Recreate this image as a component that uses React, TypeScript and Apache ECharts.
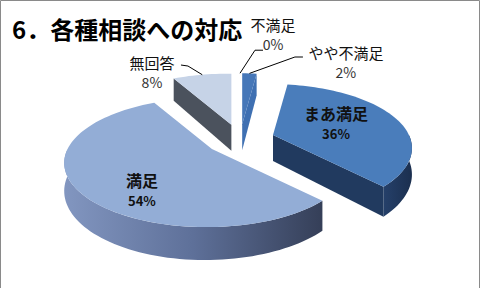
import React, { useEffect, useRef } from 'react';
import * as echarts from 'echarts';

// Survey result: response to consultations (percent of answers)
const categories = ['不満足', 'やや不満足', 'まあ満足', '満足', '無回答'];
const shares = [0, 2, 36, 54, 8];
const titleText = '6．各種相談への対応';

const FONT = 'Noto Sans CJK JP';

// Slice colours: top face, curved rim (left → right gradient), cut face
const sliceStyle: Record<string, { top: string; rim: string[]; cut: string }> = {
  不満足: { top: '#1f497d', rim: ['#1f3557', '#1f3557'], cut: '#1f3557' },
  やや不満足: { top: '#4677b8', rim: ['#27406a', '#27406a'], cut: '#3f70b2' },
  まあ満足: { top: '#4a7dbb', rim: ['#25406a', '#1b2f4f'], cut: '#213a5f' },
  満足: { top: '#93add6', rim: ['#8296c0', '#5e7099', '#353f58'], cut: '#4a5873' },
  無回答: { top: '#c6d3e7', rim: ['#50575f', '#50575f'], cut: '#4b525d' },
};

// Pie geometry (pixels)
const HUB_X = 240;
const HUB_Y = 139.8;
const EXPLODE_X = 34.7;
const EXPLODE_Y = 15.6;
const RADIUS_X = 140;
const RADIUS_Z = 61.7;
const PERSPECTIVE_Z = 0.21;
const PERSPECTIVE_X = 0.03;
const THICKNESS = 26;

// Label placement: leader bends/ends relative to the rim point, text relative to the leader end
const outsideLabels: Record<string, { bend: number[]; end: number[]; text: number[] }> = {
  不満足: { bend: [15, -23], end: [23, -23], text: [10, -26, -6] },
  やや不満足: { bend: [45.5, -16.4], end: [53.5, -16.4], text: [43, -5, 15] },
  無回答: { bend: [-14.3, -8.7], end: [-21.3, -9.7], text: [-29, -3, 17] },
};
// Inside labels relative to the slice apex: [dx, nameDy, valueDy]
const insideLabels: Record<string, number[]> = {
  まあ満足: [63, -22, -1],
  満足: [-70, 31, 52],
};

const rad = (d: number) => (d * Math.PI) / 180;

// Point on a slice of the tilted disc: angle clockwise from the back, radius fraction, 0 = top / 1 = bottom
function project(ax: number, ay: number, deg: number, r: number, level: number): number[] {
  const t = rad(deg);
  const X = r * Math.sin(t);
  const Z = -r * Math.cos(t);
  const w = 1 - PERSPECTIVE_Z * Z + PERSPECTIVE_X * X;
  return [ax + (RADIUS_X * X) / w, ay + (RADIUS_Z * Z + THICKNESS * level) / w];
}

function arc(ax: number, ay: number, a0: number, a1: number, level: number): number[][] {
  const pts: number[][] = [];
  const n = Math.max(2, Math.ceil(Math.abs(a1 - a0) / 2));
  for (let k = 0; k <= n; k++) {
    pts.push(project(ax, ay, a0 + ((a1 - a0) * k) / n, 1, level));
  }
  return pts;
}

function label(text: string, x: number, y: number, size: number, bold: boolean, fill: string) {
  return {
    type: 'text',
    style: {
      text,
      x,
      y,
      align: 'center',
      verticalAlign: 'middle',
      fill,
      fontSize: size,
      fontFamily: FONT,
      fontWeight: bold ? 'bold' : 'normal',
    },
  };
}

export default function App() {
  const ref = useRef<HTMLDivElement>(null);

  useEffect(() => {
    if (!ref.current) return;
    const chart = echarts.init(ref.current, null, { renderer: 'svg' });
    const total = shares.reduce((a, b) => a + b, 0);

    const renderItem = (params: any, api: any) => {
      const i = params.dataIndex;
      const name = categories[i];
      const value = api.value(0) as number;
      const before = shares.slice(0, i).reduce((a, b) => a + b, 0);
      const start = (before / total) * 360;
      const end = start + (value / total) * 360;
      const mid = (start + end) / 2;
      const ax = HUB_X + EXPLODE_X * Math.sin(rad(mid));
      const ay = HUB_Y - EXPLODE_Y * Math.cos(rad(mid));
      const st = sliceStyle[name];
      const children: any[] = [];

      if (value > 0) {
        // curved rim on the near half
        const r0 = Math.max(start, 90);
        const r1 = Math.min(end, 270);
        if (r1 > r0) {
          const pts = arc(ax, ay, r0, r1, 0).concat(arc(ax, ay, r1, r0, 1));
          const stops = st.rim.map((c, k) => ({ offset: k / (st.rim.length - 1), color: c }));
          children.push({
            type: 'polygon',
            shape: { points: pts },
            style: { fill: new echarts.graphic.LinearGradient(0, 0, 1, 0, stops) },
          });
        }
        // cut faces turned toward the viewer
        const cut = (deg: number) => [
          [ax, ay],
          project(ax, ay, deg, 1, 0),
          project(ax, ay, deg, 1, 1),
          [ax, ay + THICKNESS],
        ];
        if (Math.sin(rad(start)) < -1e-6) {
          children.push({ type: 'polygon', shape: { points: cut(start) }, style: { fill: st.cut } });
        }
        if (Math.sin(rad(end)) > 1e-6) {
          children.push({ type: 'polygon', shape: { points: cut(end) }, style: { fill: st.cut } });
        }
        // top face
        children.push({
          type: 'polygon',
          shape: { points: [[ax, ay]].concat(arc(ax, ay, start, end, 0)) },
          style: { fill: st.top },
        });
      }

      const pct = `${value}%`;
      const out = outsideLabels[name];
      if (out) {
        const [sx, sy] = project(ax, ay, mid, 1, 0);
        const ex = sx + out.end[0];
        const ey = sy + out.end[1];
        children.push({
          type: 'polyline',
          shape: { points: [[sx, sy], [sx + out.bend[0], sy + out.bend[1]], [ex, ey]] },
          style: { stroke: '#000', lineWidth: 1, fill: null },
        });
        children.push(label(name, ex + out.text[0], ey + out.text[1], 15, false, '#111'));
        children.push(label(pct, ex + out.text[0], ey + out.text[2], 14, false, '#333'));
      }
      const inn = insideLabels[name];
      if (inn) {
        children.push(label(name, ax + inn[0], ay + inn[1], 16, true, '#111'));
        children.push(label(pct, ax + inn[0], ay + inn[2], 13, true, '#111'));
      }
      return { type: 'group', children };
    };

    chart.setOption({
      animation: false,
      title: {
        text: titleText,
        left: 12,
        top: 16,
        padding: 0,
        textStyle: { fontSize: 24, fontWeight: 'bold', fontFamily: FONT, color: '#000' },
      },
      graphic: [
        {
          type: 'rect',
          silent: true,
          shape: { x: 0.5, y: 0.5, width: 479, height: 300 },
          style: { fill: 'none', stroke: '#8a8a8a', lineWidth: 1 },
        },
      ],
      series: [
        {
          type: 'custom',
          coordinateSystem: 'none',
          data: shares.map((v) => [v]),
          renderItem,
        },
      ],
    });
    return () => chart.dispose();
  }, []);

  return <div ref={ref} style={{ position: 'fixed', left: 0, top: 0, width: 481, height: 288, background: '#fff' }} />;
}
